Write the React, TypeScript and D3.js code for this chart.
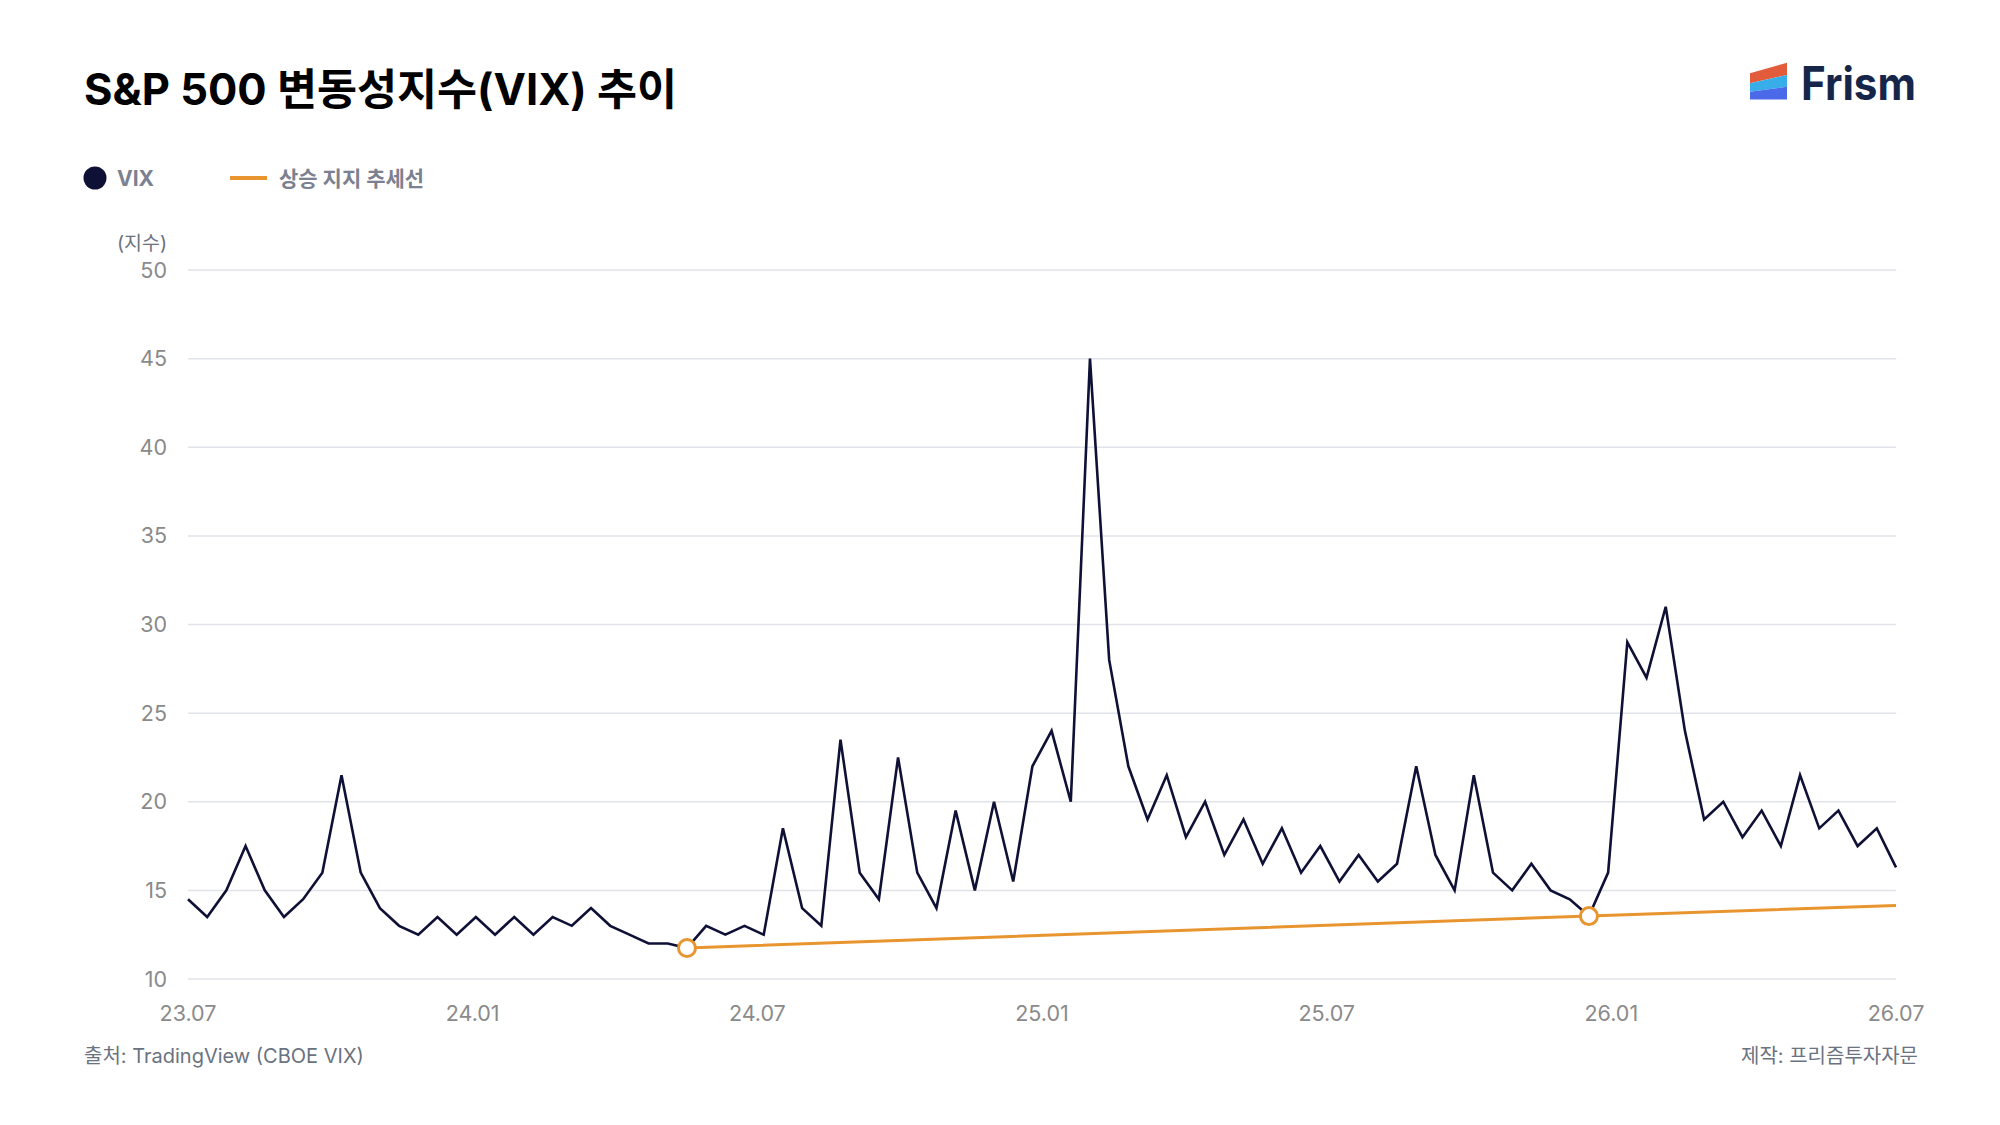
import { useEffect, useRef } from "react"
import * as d3 from "d3"

// VIX readings, evenly spaced from 23.07 to 26.07
const vixValues = [
  14.5, 13.5, 15, 17.5, 15, 13.5, 14.5, 16, 21.5, 16,
  14, 13, 12.5, 13.5, 12.5, 13.5, 12.5, 13.5, 12.5, 13.5,
  13, 14, 13, 12.5, 12, 12, 11.75, 13, 12.5, 13,
  12.5, 18.5, 14, 13, 23.5, 16, 14.5, 22.5, 16, 14,
  19.5, 15, 20, 15.5, 22, 24, 20, 45, 28, 22,
  19, 21.5, 18, 20, 17, 19, 16.5, 18.5, 16, 17.5,
  15.5, 17, 15.5, 16.5, 22, 17, 15, 21.5, 16, 15,
  16.5, 15, 14.5, 13.55, 16, 29, 27, 31, 24, 19,
  20, 18, 19.5, 17.5, 21.5, 18.5, 19.5, 17.5, 18.5, 16.3,
]

// rising support trend line (index into vixValues, value)
const trendIndexes = [26, 73, 89]
const trendValues = [11.75, 13.55, 14.15]
const touchIndexes = [26, 73]

const xTickLabels = ["23.07", "24.01", "24.07", "25.01", "25.07", "26.01", "26.07"]
const yTicks = [10, 15, 20, 25, 30, 35, 40, 45, 50]

const FONT = "Inter, 'Noto Sans CJK KR', sans-serif"

export default function App() {
  const svgRef = useRef<SVGSVGElement>(null)

  useEffect(() => {
    if (!svgRef.current) return
    const svg = d3.select(svgRef.current)
    svg.selectAll("*").remove()

    const width = 2000
    const height = 1125
    const left = 188
    const right = 1896
    const top = 270
    const bottom = 979

    svg.append("rect").attr("width", width).attr("height", height).attr("fill", "#ffffff")

    const x = d3.scaleLinear().domain([0, vixValues.length - 1]).range([left, right])
    const xTicks = d3.scalePoint<string>().domain(xTickLabels).range([left, right])
    const y = d3.scaleLinear().domain([10, 50]).range([bottom, top])

    // Title
    svg.append("text")
      .attr("x", 84)
      .attr("y", 105)
      .attr("font-family", FONT)
      .attr("font-weight", 700)
      .attr("font-size", 43.5)
      .attr("fill", "#000000")
      .text("S&P 500 변동성지수(VIX) 추이")

    // Logo
    const logo = svg.append("g")
    logo.append("path").attr("d", "M1750,73.3 L1787,62.7 L1787,75 L1750,83.3 Z").attr("fill", "#e25c3b")
    logo.append("path").attr("d", "M1750,83.3 L1787,75 L1787,86.7 L1750,91.7 Z").attr("fill", "#37ade9")
    logo.append("path").attr("d", "M1750,91.7 L1787,86.7 L1787,99.5 L1750,99.5 Z").attr("fill", "#4b6ae9")
    logo.append("text")
      .attr("x", 1801)
      .attr("y", 99.5)
      .attr("font-family", FONT)
      .attr("font-weight", 700)
      .attr("font-size", 46)
      .attr("fill", "#16264a")
      .attr("textLength", 115)
      .attr("lengthAdjust", "spacingAndGlyphs")
      .text("Frism")

    // Legend
    const legend = svg.append("g").attr("font-family", FONT).attr("font-weight", 700).attr("font-size", 21).attr("fill", "#7b8190")
    legend.append("circle").attr("cx", 95).attr("cy", 178).attr("r", 11.5).attr("fill", "#0f1035")
    legend.append("text").attr("x", 117).attr("y", 186).text("VIX")
    legend.append("line").attr("x1", 230).attr("x2", 267).attr("y1", 178).attr("y2", 178)
      .attr("stroke", "#e8952f").attr("stroke-width", 4)
    legend.append("text").attr("x", 279).attr("y", 186).text("상승 지지 추세선")

    // Unit label
    svg.append("text")
      .attr("x", 167)
      .attr("y", 250)
      .attr("text-anchor", "end")
      .attr("font-family", FONT)
      .attr("font-size", 19.5)
      .attr("fill", "#6b7280")
      .text("(지수)")

    // Grid
    svg.append("g")
      .selectAll("line")
      .data(yTicks)
      .join("line")
      .attr("x1", left)
      .attr("x2", right)
      .attr("y1", (d) => y(d))
      .attr("y2", (d) => y(d))
      .attr("stroke", "#e1e3ea")
      .attr("stroke-width", 1.5)

    // Y axis labels
    svg.append("g")
      .selectAll("text")
      .data(yTicks)
      .join("text")
      .attr("x", 167)
      .attr("y", (d) => y(d) + 7.5)
      .attr("text-anchor", "end")
      .attr("font-family", FONT)
      .attr("font-size", 21.5)
      .attr("fill", "#8a8a8a")
      .text((d) => d)

    // X axis labels
    svg.append("g")
      .selectAll("text")
      .data(xTickLabels)
      .join("text")
      .attr("x", (d) => xTicks(d) || 0)
      .attr("y", 1021)
      .attr("text-anchor", "middle")
      .attr("font-family", FONT)
      .attr("font-size", 21.5)
      .attr("fill", "#8a8a8a")
      .text((d) => d)

    // Trend line
    const trendData = trendIndexes.map((idx, i) => ({ idx, value: trendValues[i] }))
    svg.append("path")
      .datum(trendData)
      .attr("fill", "none")
      .attr("stroke", "#e8952f")
      .attr("stroke-width", 3)
      .attr("d", d3.line<{ idx: number; value: number }>().x((d) => x(d.idx)).y((d) => y(d.value)))

    // VIX line
    svg.append("path")
      .datum(vixValues)
      .attr("fill", "none")
      .attr("stroke", "#0f1035")
      .attr("stroke-width", 2.6)
      .attr("stroke-linejoin", "miter")
      .attr("d", d3.line<number>().x((_, i) => x(i)).y((d) => y(d)))

    // Support touch points
    svg.append("g")
      .selectAll("circle")
      .data(touchIndexes)
      .join("circle")
      .attr("cx", (d) => x(d))
      .attr("cy", (d) => y(vixValues[d]))
      .attr("r", 8.5)
      .attr("fill", "#ffffff")
      .attr("stroke", "#e8952f")
      .attr("stroke-width", 3)

    // Footer
    const footer = svg.append("g").attr("font-family", FONT).attr("font-size", 20).attr("fill", "#6b7280")
    footer.append("text").attr("x", 84).attr("y", 1063).text("출처: TradingView (CBOE VIX)")
    footer.append("text").attr("x", 1918).attr("y", 1063).attr("text-anchor", "end").text("제작: 프리즘투자자문")
  }, [])

  return (
    <svg
      ref={svgRef}
      width={2000}
      height={1125}
      style={{ position: "absolute", left: 0, top: 0, display: "block" }}
    />
  )
}
